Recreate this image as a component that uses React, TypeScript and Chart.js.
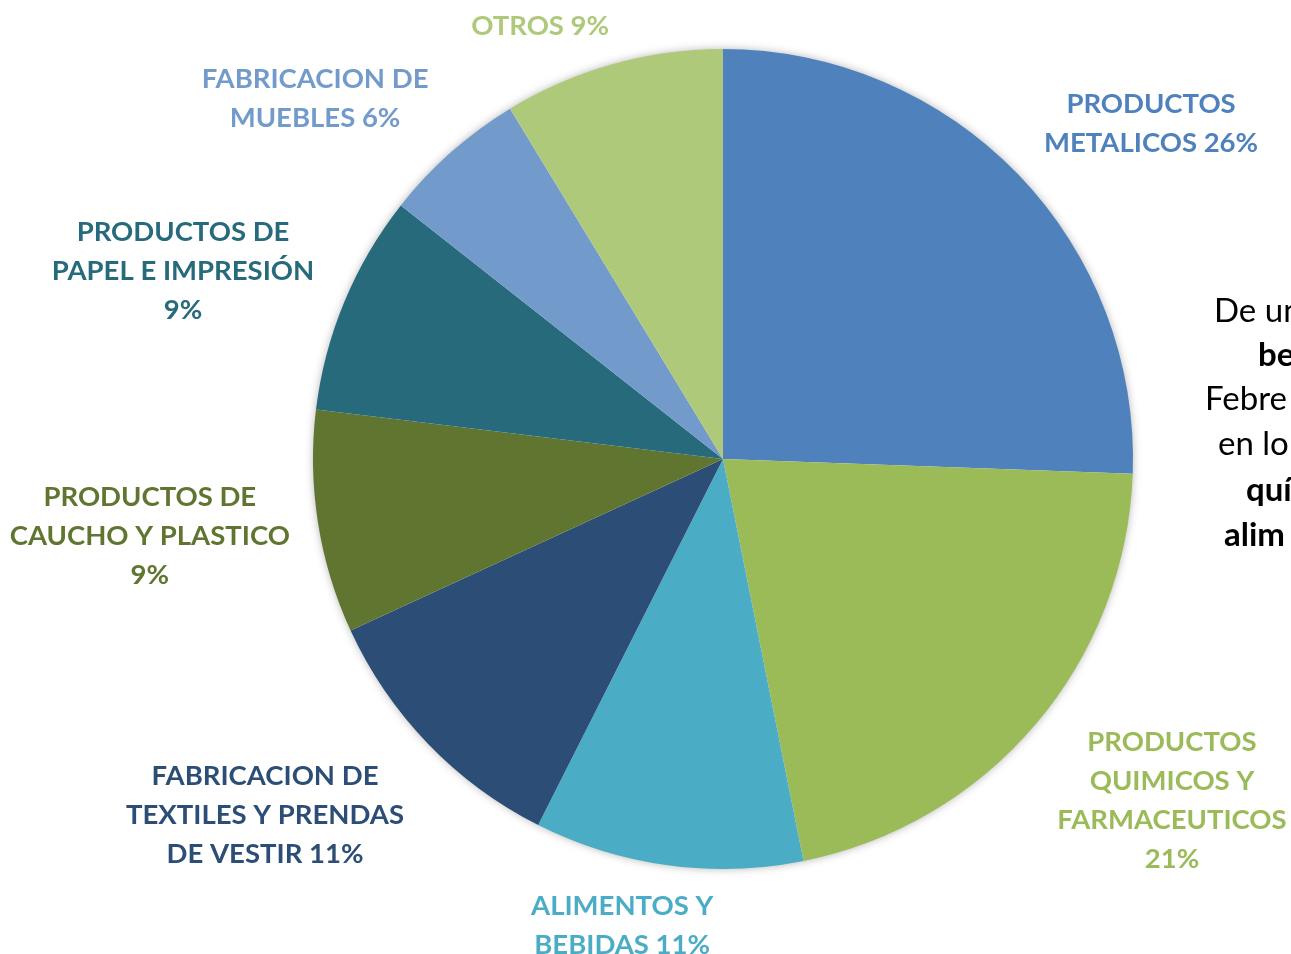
import React, { useEffect, useRef } from "react";
import { Chart, registerables } from "chart.js";

Chart.register(...registerables);

const categories = [
  "PRODUCTOS METALICOS",
  "PRODUCTOS QUIMICOS Y FARMACEUTICOS",
  "ALIMENTOS Y BEBIDAS",
  "FABRICACION DE TEXTILES Y PRENDAS DE VESTIR",
  "PRODUCTOS DE CAUCHO Y PLASTICO",
  "PRODUCTOS DE PAPEL E IMPRESIÓN",
  "FABRICACION DE MUEBLES",
  "OTROS",
];
const values = [25.6, 21.3, 10.6, 10.7, 8.8, 8.7, 5.7, 8.7];
const labelLines = [
  ["PRODUCTOS", "METALICOS 26%"],
  ["PRODUCTOS", "QUIMICOS Y", "FARMACEUTICOS", "21%"],
  ["ALIMENTOS Y", "BEBIDAS 11%"],
  ["FABRICACION DE", "TEXTILES Y PRENDAS", "DE VESTIR 11%"],
  ["PRODUCTOS DE", "CAUCHO Y PLASTICO", "9%"],
  ["PRODUCTOS DE", "PAPEL E IMPRESIÓN", "9%"],
  ["FABRICACION DE", "MUEBLES 6%"],
  ["OTROS 9%"],
];
const colors = ["#4F81BD", "#9BBB59", "#4BACC6", "#2C4D75", "#5F7530", "#276A7C", "#729ACA", "#AFC97A"];
const labelColors = ["#4F81BD", "#9BBB59", "#4BACC6", "#2C4D75", "#5F7530", "#276A7C", "#729ACA", "#AFC97A"];
// label centre offsets relative to pie centre, in units of the radius
const labelOffsets = [
  [1.044, -0.817],
  [1.095, 0.834],
  [-0.246, 1.137],
  [-1.117, 0.868],
  [-1.398, 0.188],
  [-1.317, -0.459],
  [-0.995, -0.878],
  [-0.446, -1.056],
];

const sideText = [
  { t: "De un", bold: false, x: 1214, y: 309 },
  { t: "be", bold: true, x: 1258, y: 353 },
  { t: "Febre", bold: false, x: 1205, y: 397 },
  { t: "en lo", bold: false, x: 1218, y: 442 },
  { t: "quí", bold: true, x: 1246, y: 488 },
  { t: "alim", bold: true, x: 1224, y: 533 },
];

const shadowPlugin = {
  id: "pieShadow",
  beforeDatasetsDraw(chart: any) {
    const meta = chart.getDatasetMeta(0);
    const arc = meta.data[0];
    if (!arc) return;
    const { x, y, outerRadius } = arc.getProps(["x", "y", "outerRadius"], true);
    const ctx = chart.ctx;
    ctx.save();
    ctx.shadowColor = "rgba(0,0,0,0.35)";
    ctx.shadowBlur = 10;
    ctx.shadowOffsetX = 0;
    ctx.shadowOffsetY = 0;
    ctx.fillStyle = "#ffffff";
    ctx.beginPath();
    ctx.arc(x, y, outerRadius - 1, 0, Math.PI * 2);
    ctx.fill();
    ctx.restore();
  },
};

const labelPlugin = {
  id: "outLabels",
  afterDatasetsDraw(chart: any) {
    const meta = chart.getDatasetMeta(0);
    const arc = meta.data[0];
    if (!arc) return;
    const { x, y, outerRadius } = arc.getProps(["x", "y", "outerRadius"], true);
    const ctx = chart.ctx;
    ctx.save();
    ctx.font = "bold 27.5px Lato";
    ctx.textAlign = "center";
    ctx.textBaseline = "middle";
    const lh = 39;
    labelLines.forEach((lines, i) => {
      const cx = x + labelOffsets[i][0] * outerRadius;
      const cy = y + labelOffsets[i][1] * outerRadius;
      ctx.fillStyle = labelColors[i];
      const start = cy - ((lines.length - 1) * lh) / 2;
      lines.forEach((ln, j) => ctx.fillText(ln, cx, start + j * lh));
    });
    ctx.restore();
  },
};

export default function App() {
  const ref = useRef<HTMLCanvasElement | null>(null);
  useEffect(() => {
    if (!ref.current) return;
    const chart = new Chart(ref.current, {
      type: "pie",
      data: {
        labels: categories,
        datasets: [
          {
            data: values,
            backgroundColor: colors,
            borderWidth: 0,
          },
        ],
      },
      options: {
        animation: false,
        responsive: false,
        layout: { padding: { left: 313, right: 158, top: 49, bottom: 85 } },
        plugins: { legend: { display: false }, tooltip: { enabled: false } },
      },
      plugins: [shadowPlugin, labelPlugin],
    });
    return () => chart.destroy();
  }, []);
  return (
    <div style={{ position: "absolute", left: 0, top: 0, width: 1291, height: 954, overflow: "hidden", background: "#fff" }}>
      <canvas ref={ref} width={1291} height={954} style={{ position: "absolute", left: 0, top: 0 }} />
      {sideText.map((s, i) => (
        <div
          key={i}
          style={{
            position: "absolute",
            left: s.x,
            top: s.y - 20,
            height: 40,
            lineHeight: "40px",
            fontFamily: "Lato",
            fontSize: 33,
            fontWeight: s.bold ? 700 : 400,
            color: "#000",
            whiteSpace: "nowrap",
          }}
        >
          {s.t}
        </div>
      ))}
    </div>
  );
}
